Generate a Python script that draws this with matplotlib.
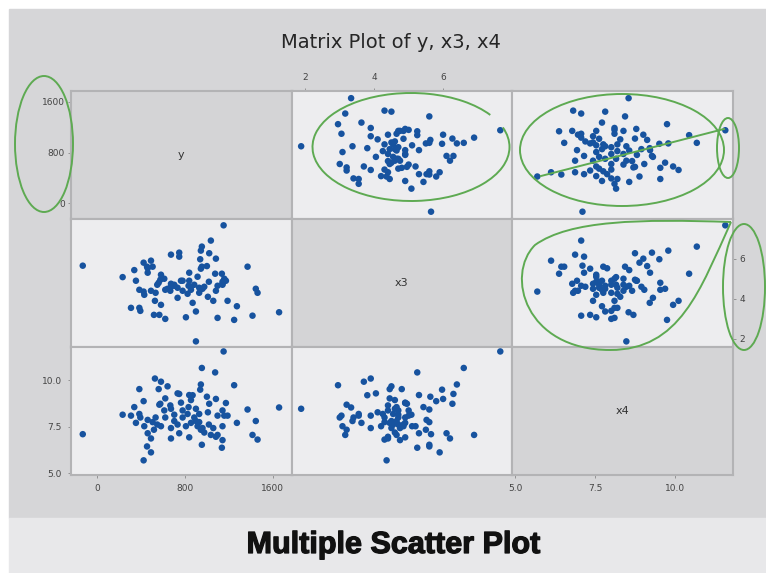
import matplotlib.pyplot as plt
import matplotlib.patheffects as pe
from matplotlib.patches import Rectangle, Ellipse, Arc, PathPatch
from matplotlib.path import Path
from matplotlib.lines import Line2D

y = [1152, 954, 1075, 1248, 527, 582, 642, 385, 561, 945,
     939, 748, 839, 1000, 1082, 424, 567, 667, 764, 855,
     1021, 1173, 1370, 1657, 339, 233, 309, 394, 461, 506,
     533, 621, 703, 779, 833, 900, 1009, 1097, 1158, 1273,
     1445, 354, 430, 582, 673, 733, 809, 900, 915, 945,
     976, 1036, 1082, 1142, 461, 491, 455, 491, 424, 673,
     748, 839, 954, 1136, 1415, 1461, -130, 621, 576, 885,
     930, 673, 1018, 1058, 1142, 855, 518, 703, 1142, 1188,
     930, 960, 548, 779, 824, 612, 385, 1097, 870, 733]
x3 = [7.66, 6.6, 5.25, 2.95, 3.9, 3.7, 4.5, 4.45, 4.8, 6.4,
      5.97, 6.3, 5.3, 5.63, 6.0, 5.8, 3.2, 4.4, 4.9, 4.6,
      6.27, 4.9, 5.6, 3.33, 5.43, 5.08, 3.55, 3.4, 5.52, 5.6,
      4.3, 3.0, 4.7, 4.4, 4.65, 1.88, 4.1, 3.05, 5.0, 3.63,
      4.5, 4.9, 4.2, 5.2, 4.75, 4.55, 3.08, 3.37, 5.1, 5.5,
      4.6, 6.9, 4.4, 4.85, 5.3, 4.4, 5.6, 5.9, 4.36, 6.2,
      6.1, 4.9, 5.6, 5.25, 3.16, 4.3, 5.65, 4.45, 4.95, 4.7,
      4.55, 4.6, 4.85, 3.9, 4.75, 4.45, 3.2, 4.65, 4.7, 3.9,
      4.3, 4.5, 4.7, 4.9, 4.25, 5.0, 3.55, 4.65, 3.8, 4.05]
x4 = [11.56, 10.67, 10.43, 9.74, 10.1, 9.93, 9.68, 9.53, 9.53, 9.78,
      9.5, 9.27, 9.21, 9.12, 9.0, 8.88, 8.69, 8.65, 8.8, 8.94,
      8.74, 8.78, 8.43, 8.54, 8.56, 8.15, 8.1, 8.0, 7.87, 7.75,
      8.0, 8.0, 8.15, 8.38, 8.56, 8.47, 8.28, 8.1, 8.1, 7.71,
      7.81, 7.71, 7.53, 7.53, 7.43, 7.62, 7.53, 7.81, 7.53, 7.34,
      7.19, 7.06, 6.96, 7.53, 7.15, 6.87, 6.44, 6.12, 5.69, 6.87,
      7.15, 6.93, 6.53, 6.37, 7.06, 6.81, 7.1, 9.03, 8.74, 8.0,
      8.19, 8.47, 7.62, 7.43, 6.78, 7.71, 7.34, 7.81, 8.38, 8.1,
      7.75, 7.43, 7.62, 8.0, 8.19, 8.38, 8.19, 7.06, 9.2, 9.3]

names = ['y', 'x3', 'x4']
y_ticks = [0, 800, 1600]
x3_ticks = [2, 4, 6]
x4_ticks = [5.0, 7.5, 10.0]

W, H = 766, 573
fig = plt.figure(figsize=(W / 100, H / 100), dpi=100)
fig.patch.set_facecolor('white')


def rect(x0, y0, x1, y1):
    return [x0 / W, 1 - y1 / H, (x1 - x0) / W, (y1 - y0) / H]


# screenshot background
fig.patches.append(Rectangle((9 / W, 1 - 518 / H), 1, (518 - 9) / H,
                             transform=fig.transFigure, color='#d6d6d8', zorder=-5))
fig.patches.append(Rectangle((9 / W, 0), 1, 1 - 518 / H,
                             transform=fig.transFigure, color='#e8e8ea', zorder=-5))

fig.text(391 / W, 1 - 42 / H, 'Matrix Plot of y, x3, x4', ha='center', va='center',
         fontsize=14, color='#262626')
fig.text(393 / W, 1 - 545 / H, 'Multiple Scatter Plot', ha='center', va='center',
         fontsize=22, fontweight='bold', color='#111111', family='Liberation Sans',
         path_effects=[pe.withStroke(linewidth=0.9, foreground='#111111')])

data = [y, x3, x4]
lims = [(-237, 1770), (1.6, 8.0), (4.9, 11.8)]
cols = [71, 291.5, 512, 733]
rows = [91, 218.5, 347, 475]

axes = {}
for i in range(3):
    for j in range(3):
        ax = fig.add_axes(rect(cols[j], rows[i], cols[j + 1], rows[i + 1]))
        axes[(i, j)] = ax
        ax.set_xlim(lims[j])
        ax.set_ylim(lims[i])
        if i == j:
            ax.set_facecolor('#d4d4d6')
            ax.text(0.5, 0.5, names[i], transform=ax.transAxes, ha='center',
                    va='center', fontsize=8, color='#333333')
        else:
            ax.set_facecolor('#ededef')
            ax.scatter(data[j], data[i], s=22, color='#17539f', edgecolors='none', zorder=3)
        for s in ax.spines.values():
            s.set_color('#b3b3b5')
            s.set_linewidth(1.5)
        ax.set_xticks([])
        ax.set_yticks([])
        ax.tick_params(labelsize=6.5, colors='#555555', length=2.5, width=0.6, pad=2)

tick_kw = dict(labelsize=6.5, labelcolor='#444444', color='#888888')
ax = axes[(0, 0)]
ax.set_yticks(y_ticks)
ax.tick_params(axis='y', **tick_kw)

ax = axes[(0, 1)]
ax.xaxis.tick_top()
ax.set_xticks(x3_ticks)
ax.tick_params(axis='x', pad=4, **tick_kw)

ax = axes[(1, 2)]
ax.yaxis.tick_right()
ax.set_yticks(x3_ticks)
ax.tick_params(axis='y', **tick_kw)

ax = axes[(2, 0)]
ax.set_yticks(x4_ticks)
ax.set_yticklabels(['%.1f' % t for t in x4_ticks])
ax.set_xticks(y_ticks)
ax.tick_params(axis='both', pad=4, **tick_kw)

ax = axes[(2, 2)]
ax.set_xticks(x4_ticks)
ax.set_xticklabels(['%.1f' % t for t in x4_ticks])
ax.tick_params(axis='x', pad=4, **tick_kw)

# hand-drawn green annotations (pixel coordinates of the screenshot)
green = '#5eaa52'
ann = fig.add_axes([0, 0, 1, 1], facecolor='none')
ann.set_xlim(0, W)
ann.set_ylim(H, 0)
ann.axis('off')
ann.add_patch(Ellipse((44, 144), 58, 136, fill=False, color=green, lw=1.4))
ann.add_patch(Arc((411, 147), 197, 108, theta1=-12, theta2=338, color=green, lw=1.4))
ann.add_patch(Ellipse((622, 150), 204, 112, fill=False, color=green, lw=1.4))
ann.add_patch(Ellipse((728, 148), 22, 60, fill=False, color=green, lw=1.4))
ann.add_line(Line2D([541, 724], [176, 129], color=green, lw=1.4))
drop = Path([(731, 222), (640, 219), (570, 220), (535, 245),
             (505, 275), (525, 350), (610, 350),
             (680, 350), (700, 290), (731, 222)],
            [Path.MOVETO, Path.CURVE4, Path.CURVE4, Path.CURVE4,
             Path.CURVE4, Path.CURVE4, Path.CURVE4,
             Path.CURVE4, Path.CURVE4, Path.CURVE4])
ann.add_patch(PathPatch(drop, fill=False, color=green, lw=1.4))
ann.add_patch(Ellipse((744, 287), 42, 126, fill=False, color=green, lw=1.4))

fig.savefig('out.png', dpi=100)
